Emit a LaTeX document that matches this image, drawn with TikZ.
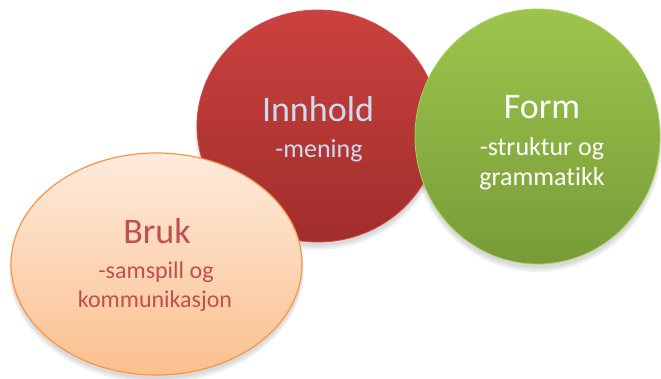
\documentclass[tikz,border=0pt]{standalone}
\usepackage{fontspec}
\setmainfont{Carlito}[Ligatures=NoCommon]
\usetikzlibrary{shapes.geometric}
\definecolor{redtop}{RGB}{203,65,63}
\definecolor{redbot}{RGB}{160,46,44}
\definecolor{redrim}{RGB}{208,76,74}
\definecolor{greentop}{RGB}{157,197,76}
\definecolor{greenbot}{RGB}{120,155,56}
\definecolor{greenrim}{RGB}{168,208,92}
\definecolor{peachtop}{RGB}{253,235,221}
\definecolor{peachbot}{RGB}{251,192,142}
\definecolor{orangerim}{RGB}{247,150,70}
\definecolor{bruktext}{RGB}{192,80,77}
\definecolor{innholdtext}{RGB}{206,219,238}
\tikzset{
  blob/.style={ellipse, inner sep=0pt, outer sep=0pt},
  shadowblob/.style={ellipse, inner sep=0pt, fill=black, fill opacity=0.05, draw=none},
  title/.style={anchor=base, font=\fontsize{36}{36}\selectfont, inner sep=0pt},
  sub/.style={anchor=base, font=\fontsize{26}{26}\selectfont, inner sep=0pt},
  subsmall/.style={anchor=base, font=\fontsize{24}{24}\selectfont, inner sep=0pt},
}
\begin{document}
\begin{tikzpicture}[x=1pt,y=-1pt]
\useasboundingbox (0,0) rectangle (661,378);
% shadows
\foreach \d in {0,2,4}{
  \node[shadowblob, minimum width={242+\d}, minimum height={232+\d}] at (318,{130+\d/2}) {};
  \node[shadowblob, minimum width={245+\d}, minimum height={255+\d}] at (537.5,{140.5+\d/2}) {};
  \node[shadowblob, minimum width={291+\d}, minimum height={222+\d}] at (156.5,{268+\d/2}) {};
}
% circles
\node[blob, minimum width=242, minimum height=232, top color=redtop, bottom color=redbot, draw=redrim, line width=0.8pt] (red) at (318,126) {};
\node[blob, minimum width=245, minimum height=255, top color=greentop, bottom color=greenbot, draw=greenrim, line width=0.8pt] (green) at (537.5,136.5) {};
\node[blob, minimum width=291, minimum height=222, top color=peachtop, bottom color=peachbot, draw=orangerim, line width=1.2pt] (bruk) at (156.5,264) {};
% texts
\node[title, text=innholdtext] (t1) at (318,121) {Innhold};
\node[sub, text=innholdtext] (s1) at (319,157) {-mening};
\node[title, text=white] (t2) at (542,118) {Form};
\node[sub, text=white] (s2a) at (542,155) {-struktur og};
\node[sub, text=white] (s2b) at (542,185) {grammatikk};
\node[title, text=bruktext] (t3) at (157,243) {Bruk};
\node[subsmall, text=bruktext] (s3a) at (156,278) {-samspill og};
\node[subsmall, text=bruktext] (s3b) at (155,307) {kommunikasjon};
\end{tikzpicture}
\end{document}
